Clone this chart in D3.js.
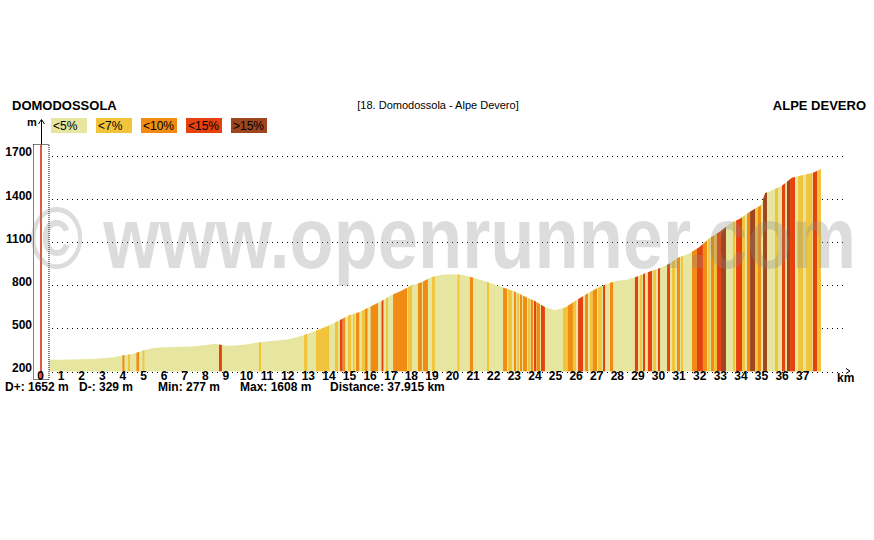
<!DOCTYPE html>
<html><head><meta charset="utf-8">
<script src="https://cdn.jsdelivr.net/npm/d3@7"></script>
<style>
body{margin:0;background:#fff}
svg{display:block}
text{font-family:"Liberation Sans",Arial,sans-serif}
</style>
</head><body><svg id="c" width="874" height="540"></svg>
<script>
// ---------- data ----------
const totalKm = 37.915;
const profileKm = [0,0.5,1,1.5,2,2.5,3,3.5,4,4.5,5,5.5,6,6.5,7,7.5,8,8.5,9,9.5,10,10.5,11,11.5,12,12.5,13,13.5,14,14.5,15,15.5,16,16.5,17,17.5,18,18.5,19,19.5,20,20.5,21,21.5,22,22.5,23,23.5,24,24.5,25,25.5,26,26.5,27,27.5,28,28.5,29,29.5,30,30.5,31,31.5,32,32.5,33,33.5,34,34.5,35,35.2,35.5,36,36.5,37,37.5,37.915];
const profileElev = [280,281,282,283,285,287,292,298,311,322,345,363,368,370,372,376,382,392,378,380,388,400,408,415,422,440,462,488,518,552,590,612,648,682,726,758,796,818,855,872,876,872,852,832,808,782,758,722,692,648,626,645,692,735,774,808,830,838,860,890,914,944,992,1018,1062,1126,1170,1228,1262,1312,1355,1440,1456,1488,1545,1562,1578,1606];
// gradient bands steeper than 5% (the rest of the profile is "<5%")
const stripeFrom  = [4.00,4.27,4.68,4.98,8.69,10.63,12.82,13.40,14.32,14.56,14.71,14.95,15.20,15.34,15.62,15.78,16.05,16.58,16.80,17.14,17.86,18.35,18.59,19.03,20.27,20.87,21.70,22.48,22.72,23.01,23.16,23.30,23.45,23.69,23.83,23.98,24.10,24.32,25.39,25.63,25.87,26.12,26.46,26.70,26.84,27.09,27.33,27.67,28.88,29.13,29.27,29.51,29.76,30.00,30.44,30.68,30.92,31.12,31.65,31.89,32.18,32.43,32.57,32.72,32.86,33.06,33.64,33.79,34.08,34.32,34.47,34.71,34.85,35.10,35.68,36.02,36.26,36.41,36.80,37.18,37.52,37.72];
const stripeTo    = [4.10,4.37,4.81,5.07,8.83,10.73,12.98,14.04,14.47,14.69,14.81,15.10,15.28,15.50,15.78,15.90,16.41,16.67,16.89,17.82,18.06,18.54,18.83,19.17,20.36,21.02,21.80,22.67,22.91,23.11,23.25,23.40,23.64,23.79,23.93,24.08,24.27,24.51,25.63,25.87,26.02,26.36,26.60,26.84,27.04,27.28,27.43,27.82,29.03,29.22,29.37,29.71,29.90,30.10,30.58,30.83,31.07,31.21,31.89,32.18,32.38,32.52,32.72,32.86,33.06,33.30,33.74,34.08,34.22,34.47,34.71,34.85,35.00,35.29,35.83,36.17,36.41,36.65,37.04,37.48,37.72,37.915];
const stripeClass = [2,1,2,1,3,1,1,1,1,3,2,1,1,2,1,2,2,3,1,2,1,2,2,1,1,2,1,2,1,2,1,2,2,1,2,3,2,3,1,2,1,3,2,1,2,1,3,2,3,1,3,3,1,3,3,1,2,1,2,3,2,1,2,1,3,4,1,3,1,2,4,1,2,4,1,3,4,3,1,1,3,1];
const legendLabels = ["<5%","<7%","<10%","<15%",">15%"];
const legendColors = ["#e6e6a0","#f2c43c","#f08c14","#e6420f","#a0461e"];
const yTicks = [200,500,800,1100,1400,1700];
const kmTicks = [0,1,2,3,4,5,6,7,8,9,10,11,12,13,14,15,16,17,18,19,20,21,22,23,24,25,26,27,28,29,30,31,32,33,34,35,36,37];
const statsLabels = ["D+: 1652 m","D-: 329 m","Min: 277 m","Max: 1608 m","Distance: 37.915 km"];
const startName = "DOMODOSSOLA", endName = "ALPE DEVERO", stageTitle = "[18. Domodossola - Alpe Devero]";
const watermark = "\u00A9 www.openrunner.com";

// ---------- layout ----------
const statsX = [5,79,158,240,330];
const svg = d3.select("#c");
const x = d3.scaleLinear().domain([0,totalKm]).range([40, 40 + totalKm*20.6]);
const y = d3.scaleLinear().domain([200,1700]).range([371.5,155.5]);

// grid lines
svg.append("g").selectAll("line").data(yTicks).join("line")
  .attr("x1",47).attr("x2",d=>d===200?848:846)
  .attr("y1",d=>Math.round(y(d))+0.5).attr("y2",d=>Math.round(y(d))+0.5)
  .attr("stroke","#000").attr("stroke-dasharray","1,4").attr("stroke-width",1);

// profile
const pts = profileKm.map((k,i)=>[k,profileElev[i]]);
const area = d3.area().x(d=>x(d[0])).y0(y(200)).y1(d=>y(d[1]));
svg.append("clipPath").attr("id","prof").append("path").attr("d",area(pts));
svg.append("path").attr("d",area(pts)).attr("fill",legendColors[0]);

const stripes = stripeFrom.map((f,i)=>({k0:f,k1:stripeTo[i],c:stripeClass[i]}));
svg.append("g").attr("clip-path","url(#prof)").selectAll("rect").data(stripes).join("rect")
  .attr("x",d=>x(d.k0)).attr("width",d=>Math.max(1.5,x(d.k1)-x(d.k0)))
  .attr("y",y(1700)-20).attr("height",y(200)-y(1700)+20)
  .attr("fill",d=>legendColors[d.c]);

// y axis line + arrow
svg.append("line").attr("x1",41.5).attr("x2",41.5).attr("y1",120).attr("y2",372).attr("stroke","#000");
svg.append("polyline").attr("points","38.5,124 41.5,119.5 44.5,124").attr("fill","none").attr("stroke","#000");
svg.append("text").attr("x",27).attr("y",126).attr("font-size",11).attr("font-weight","bold").text("m");

// cursor box
svg.append("rect").attr("x",33.5).attr("y",144.5).attr("width",15.5).attr("height",235)
  .attr("fill","#fff").attr("stroke","#000").attr("stroke-dasharray","1,1");
svg.append("line").attr("x1",41).attr("x2",41).attr("y1",145).attr("y2",379)
  .attr("stroke","#e05a44").attr("stroke-width",2);

// y axis labels
const ya = d3.axisLeft(y).tickValues(yTicks).tickSize(0).tickPadding(1).tickFormat(d3.format("d"));
const yg = svg.append("g").attr("transform","translate(33,-3.5)").call(ya);
yg.select(".domain").remove();
yg.selectAll("text").attr("font-family","Liberation Sans, Arial, sans-serif").attr("font-size",12).attr("font-weight","bold").attr("fill","#000");

// x axis labels
const xa = d3.axisBottom(x).tickValues(kmTicks).tickSize(0).tickPadding(0).tickFormat(d3.format("d"));
const xg = svg.append("g").attr("transform",`translate(0,${y(200)})`).call(xa);
xg.select(".domain").remove();
xg.selectAll("text").attr("font-family","Liberation Sans, Arial, sans-serif").attr("font-size",12).attr("font-weight","bold").attr("fill","#000");

svg.append("polyline").attr("points","846,368.5 850,371 846,373.5").attr("fill","none").attr("stroke","#000");
svg.append("text").attr("x",837).attr("y",382).attr("font-size",12).attr("font-weight","bold").text("km");

// stats
svg.append("g").selectAll("text").data(statsLabels).join("text")
  .attr("x",(d,i)=>statsX[i]).attr("y",391).attr("font-size",12).attr("font-weight","bold").text(d=>d);

// titles
svg.append("text").attr("x",12).attr("y",110).attr("font-size",13).attr("font-weight","bold").text(startName);
svg.append("text").attr("x",866).attr("y",110).attr("text-anchor","end").attr("font-size",13).attr("font-weight","bold").text(endName);
svg.append("text").attr("x",438).attr("y",109).attr("text-anchor","middle").attr("font-size",11).text(stageTitle);

// legend
const lg = svg.append("g").selectAll("g").data(legendLabels).join("g")
  .attr("transform",(d,i)=>`translate(${51+i*45},118)`);
lg.append("rect").attr("width",36).attr("height",15).attr("fill",(d,i)=>legendColors[i]);
lg.append("text").attr("x",2).attr("y",12).attr("font-size",12).text(d=>d);

// watermark
svg.append("text").attr("x",30).attr("y",268).attr("font-size",88).attr("font-weight","bold")
  .attr("textLength",826).attr("lengthAdjust","spacingAndGlyphs")
  .attr("fill","#8c8c8c").attr("fill-opacity",0.3).text(watermark);
</script></body></html>
